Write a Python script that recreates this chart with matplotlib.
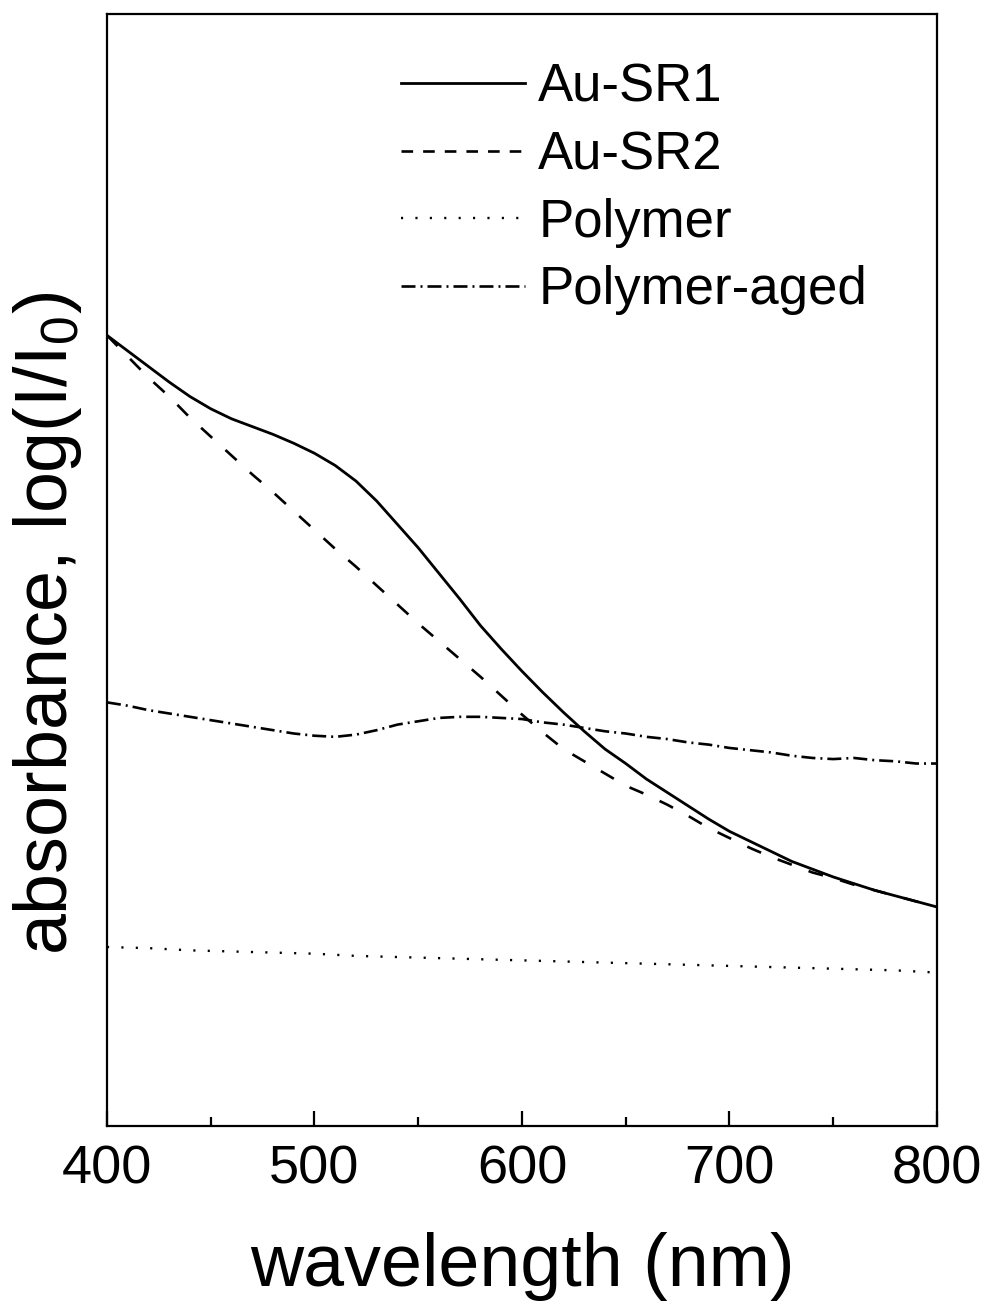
import numpy as np
import matplotlib
matplotlib.use("Agg")
import matplotlib.pyplot as plt
from matplotlib.lines import Line2D
from matplotlib.ticker import MultipleLocator, NullLocator

plt.rcParams["font.family"] = ["Liberation Sans", "DejaVu Sans"]
plt.rcParams["mathtext.fontset"] = "custom"
plt.rcParams["mathtext.rm"] = "Liberation Sans"
plt.rcParams["mathtext.it"] = "Liberation Sans"
plt.rcParams["mathtext.bf"] = "Liberation Sans"

# wavelength grid (nm) and absorbance in arbitrary units
wavelength = list(range(400, 801, 10))
au_sr1 = [0.711, 0.697, 0.683, 0.669, 0.656, 0.645, 0.636, 0.629, 0.622, 0.614,
          0.605, 0.594, 0.580, 0.562, 0.541, 0.520, 0.497, 0.474, 0.450, 0.429,
          0.409, 0.390, 0.372, 0.355, 0.339, 0.326, 0.312, 0.300, 0.288, 0.276,
          0.265, 0.256, 0.247, 0.238, 0.231, 0.224, 0.218, 0.212, 0.207, 0.202,
          0.197]
au_sr2 = [0.711, 0.692, 0.673, 0.656, 0.637, 0.620, 0.603, 0.586, 0.570, 0.553,
          0.536, 0.519, 0.503, 0.486, 0.469, 0.452, 0.436, 0.420, 0.404, 0.387,
          0.370, 0.354, 0.339, 0.328, 0.317, 0.306, 0.298, 0.289, 0.279, 0.268,
          0.259, 0.250, 0.242, 0.235, 0.228, 0.223, 0.217, 0.212, 0.207, 0.202,
          0.197]
polymer_wl = [400, 420, 440, 460, 480, 500, 520, 540, 560, 580, 600,
              620, 640, 660, 680, 700, 720, 740, 760, 780, 800]
polymer = [0.161, 0.160, 0.158, 0.157, 0.156, 0.155, 0.153, 0.152, 0.151, 0.150, 0.149,
           0.148, 0.147, 0.146, 0.145, 0.144, 0.143, 0.142, 0.141, 0.140, 0.138]
polymer_aged = [0.381, 0.378, 0.374, 0.371, 0.368, 0.365, 0.362, 0.359, 0.356, 0.353,
                0.351, 0.350, 0.352, 0.356, 0.361, 0.364, 0.367, 0.368, 0.368, 0.367,
                0.366, 0.363, 0.361, 0.358, 0.355, 0.353, 0.350, 0.348, 0.345, 0.343,
                0.340, 0.338, 0.336, 0.333, 0.331, 0.330, 0.331, 0.329, 0.328, 0.326,
                0.326]

fig = plt.figure(figsize=(9.86, 13.08), dpi=100)
ax = fig.add_axes([0.1085, 0.1391, 0.8418, 0.8502])

lw = 1.9
ax.plot(wavelength, au_sr1, color="black", linewidth=2.0, linestyle="-")
ax.plot(wavelength, au_sr2, color="black", linewidth=lw, linestyle=(0, (5.7, 6.8)))
ax.plot(polymer_wl, polymer, color="black", linewidth=1.7, linestyle=(0, (0.9, 5.2)))
ax.plot(wavelength, polymer_aged, color="black", linewidth=lw,
        linestyle=(0, (5.3, 1.9, 0.75, 1.9)))

ax.set_xlim(400, 800)
ax.set_ylim(0, 1.0)
ax.xaxis.set_major_locator(MultipleLocator(100))
ax.xaxis.set_minor_locator(MultipleLocator(50))
ax.yaxis.set_major_locator(NullLocator())
ax.yaxis.set_minor_locator(NullLocator())
ax.tick_params(axis="x", which="major", direction="in", length=10.8, width=1.6,
               labelsize=39, pad=13)
ax.tick_params(axis="x", which="minor", direction="in", length=6.2, width=1.6)
for s in ax.spines.values():
    s.set_linewidth(1.6)

ax.set_xlabel("wavelength (nm)", fontsize=53, labelpad=27)
ax.set_ylabel("absorbance, log(I/I$_0$)", fontsize=53, va="baseline")
ax.yaxis.set_label_coords(-0.048, 0.452)

# legend proxies (the legend samples use a tighter dash pattern than the plot)
handles = [
    Line2D([], [], color="black", linewidth=2.0, linestyle="-"),
    Line2D([], [], color="black", linewidth=lw, linestyle=(0, (4.4, 3.8))),
    Line2D([], [], color="black", linewidth=1.7, linestyle=(0, (0.9, 5.2))),
    Line2D([], [], color="black", linewidth=lw, linestyle=(0, (5.3, 1.9, 0.75, 1.9))),
]
labels = ["Au-SR1", "Au-SR2", "Polymer", "Polymer-aged"]
ax.legend(handles, labels, loc="upper left", bbox_to_anchor=(0.4067, 0.952),
          bbox_transform=fig.transFigure, frameon=False, fontsize=38,
          handlelength=2.35, handletextpad=0.25, labelspacing=0.33,
          borderpad=0, borderaxespad=0)

fig.savefig("out.png", dpi=100)
